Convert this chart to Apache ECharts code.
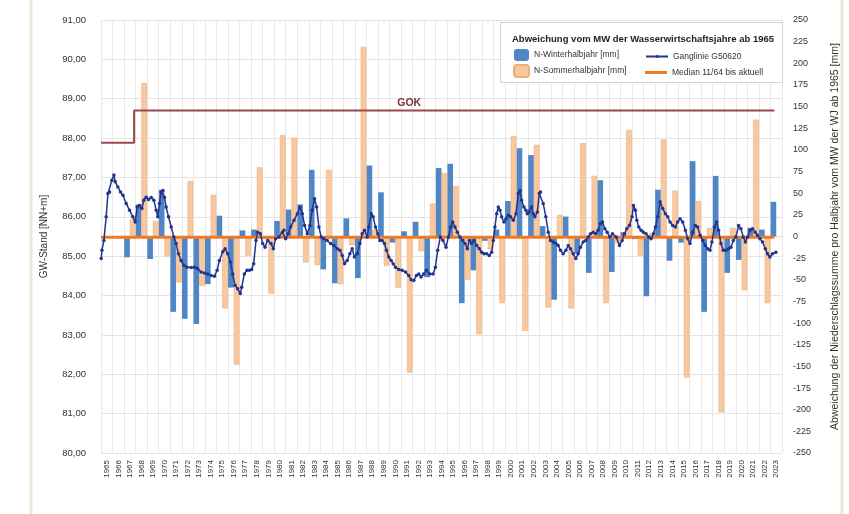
<!DOCTYPE html>
<html>
<head>
<meta charset="utf-8">
<script src="https://cdn.jsdelivr.net/npm/echarts@6/dist/echarts.min.js"></script>
<style>
html, body { margin: 0; padding: 0; background: #fff; }
#chart { width: 849px; height: 514px; }
</style>
</head>
<body>
<div id="chart"></div>
<script>
// Wasserwirtschaftsjahre
const years = ['1965','1966','1967','1968','1969','1970','1971','1972','1973','1974','1975','1976','1977','1978','1979',
  '1980','1981','1982','1983','1984','1985','1986','1987','1988','1989','1990','1991','1992','1993','1994','1995',
  '1996','1997','1998','1999','2000','2001','2002','2003','2004','2005','2006','2007','2008','2009','2010','2011',
  '2012','2013','2014','2015','2016','2017','2018','2019','2020','2021','2022','2023'];

// Abweichung vom MW [mm]
const winterDev = [null,null,-24,37,-26,54,-87,-95,-101,-55,24,-59,7,8,-3,18,31,37,77,-38,-54,21,-48,82,51,-7,6,17,-47,79,
  84,-77,-39,-5,8,41,102,94,12,-73,23,-20,-42,65,-41,5,-3,-69,54,-28,-7,87,-87,70,-42,-27,10,8,40];
const summerDev = [null,null,20,177,18,-23,-53,64,-57,48,-83,-148,-22,80,-66,117,114,-30,-33,77,-55,-10,219,8,-34,-59,-157,-17,38,73,
  58,-50,-113,-15,-77,116,-109,106,-82,25,-83,108,70,-77,-8,123,-22,4,112,53,-163,41,10,-203,10,-62,135,-77,null];

// Ganglinie G50620 (Zeit in Jahren, GW-Stand NN+m)
const gangTime = [
  1964.52,1964.58,1964.75,1964.95,1965.10,1965.24,1965.44,1965.62,1965.73,1965.96,1966.19,1966.40,1966.68,1966.97,1967.26,
  1967.46,1967.64,1967.84,1968.04,1968.21,1968.41,1968.62,1968.85,1969.08,1969.28,1969.42,1969.57,1969.71,1969.86,1970.00,
  1970.14,1970.35,1970.58,1970.81,1971.01,1971.21,1971.44,1971.67,1971.96,1972.31,1972.60,1972.88,1973.17,1973.46,1973.75,
  1974.04,1974.33,1974.56,1974.76,1975.05,1975.25,1975.48,1975.71,1975.91,1976.11,1976.34,1976.57,1976.69,1976.92,1977.15,
  1977.35,1977.55,1977.73,1977.93,1978.07,1978.30,1978.51,1978.71,1978.94,1979.23,
  1979.43,1979.63,1979.92,1980.21,1980.35,1980.50,1980.70,1980.93,1981.22,1981.51,1981.74,1981.94,1982.14,1982.37,1982.60,
  1982.80,1983.00,1983.18,1983.38,1983.58,1983.81,1984.10,1984.39,1984.68,1984.97,1985.20,1985.40,1985.60,1985.83,1986.06,
  1986.26,1986.46,1986.70,1986.93,1987.13,1987.33,1987.56,1987.70,1987.91,1988.08,1988.28,1988.48,1988.66,1988.86,1989.06,
  1989.23,1989.43,1989.64,1989.81,1990.01,1990.30,1990.59,1990.88,1991.16,1991.37,1991.60,1991.83,1992.03,1992.23,1992.46,
  1992.69,1992.98,1993.27,1993.47,1993.67,1993.90,1994.13,
  1994.39,1994.60,1994.80,1994.97,1995.17,1995.37,1995.60,1995.84,1996.04,1996.24,1996.41,1996.61,1996.82,1997.05,1997.28,
  1997.48,1997.68,1997.91,1998.14,1998.34,1998.49,1998.63,1998.78,1998.92,1999.07,1999.21,1999.41,1999.58,1999.79,1999.99,
  2000.22,2000.45,2000.65,2000.80,2000.94,2001.14,2001.31,2001.43,2001.60,2001.80,2001.95,2002.09,2002.30,2002.47,2002.58,
  2002.81,2003.04,2003.25,2003.45,2003.68,2003.91,2004.11,2004.31,2004.54,2004.78,2004.98,2005.18,2005.41,2005.64,2005.84,
  2006.04,2006.27,2006.50,2006.71,2006.91,2007.14,2007.37,2007.57,2007.77,2007.95,2008.15,2008.35,2008.58,2008.81,
  2009.13,2009.42,2009.65,2009.85,2010.05,2010.28,2010.51,2010.63,2010.80,2010.92,2011.09,2011.29,2011.49,2011.72,2011.95,
  2012.16,2012.36,2012.53,2012.73,2012.94,2013.17,2013.40,2013.60,2013.80,2014.03,2014.26,2014.46,2014.67,2014.90,2015.13,
  2015.33,2015.53,2015.76,2015.99,2016.19,2016.40,2016.63,2016.86,2017.06,2017.26,2017.43,2017.64,2017.84,2018.01,2018.21,
  2018.41,2018.64,2018.88,2019.08,2019.28,2019.51,2019.74,2019.94,2020.14,2020.32,2020.52,2020.72,2020.95,2021.18,2021.38,
  2021.59,2021.82,2022.05,2022.25,2022.45,2022.68,2022.97
];
const gangLevel = [
  84.94,85.15,85.40,86.00,86.59,86.63,86.93,87.06,86.89,86.76,86.63,86.55,86.34,86.17,86.00,
  85.87,86.25,86.29,86.21,86.42,86.50,86.44,86.49,86.42,86.17,86.00,86.34,86.63,86.67,86.50,
  86.25,86.00,85.74,85.49,85.32,85.06,84.89,84.77,84.72,84.71,84.72,84.68,84.60,84.57,84.55,
  84.51,84.49,84.64,84.89,85.11,85.19,85.06,84.85,84.55,84.26,84.17,84.05,84.21,84.55,84.64,
  84.64,84.66,84.81,85.40,85.61,85.57,85.32,85.23,85.40,85.32,
  85.19,85.44,85.49,85.61,85.66,85.44,85.57,85.74,85.91,86.08,86.25,86.08,85.78,85.57,85.78,
  86.17,86.46,86.25,85.74,85.49,85.44,85.40,85.32,85.27,85.19,85.15,85.02,84.81,84.89,85.06,
  85.19,84.98,85.06,85.32,85.57,85.66,85.49,85.74,86.08,86.00,85.74,85.57,85.40,85.40,85.32,
  85.15,84.98,84.89,84.81,84.72,84.66,84.64,84.60,84.51,84.40,84.38,84.51,84.55,84.47,84.55,
  84.64,84.55,84.55,84.72,85.15,85.49,85.40,
  85.23,85.49,85.74,85.87,85.74,85.61,85.49,85.40,85.32,85.19,85.40,85.32,85.40,85.27,85.19,
  85.10,85.06,85.06,85.02,85.10,85.40,85.74,86.08,86.25,86.17,86.00,85.87,85.95,86.04,86.00,
  85.91,86.08,86.59,86.67,86.42,86.25,86.17,86.08,86.12,86.25,86.08,86.00,86.12,86.59,86.63,
  86.34,86.00,85.61,85.40,85.36,85.32,85.27,85.15,85.06,85.15,85.27,85.19,85.06,84.94,85.06,
  85.23,85.36,85.40,85.49,85.57,85.61,85.57,85.66,85.83,85.87,85.70,85.61,85.49,85.57,
  85.49,85.27,85.40,85.57,85.70,85.78,86.00,86.29,86.17,85.91,85.74,85.66,85.61,85.57,85.49,
  85.44,85.57,85.74,86.00,86.38,86.21,86.08,86.00,85.87,85.78,85.74,85.87,85.95,85.87,85.66,
  85.44,85.32,85.61,85.78,85.74,85.53,85.40,85.27,85.19,85.15,85.36,85.74,85.87,85.66,85.32,
  85.15,85.15,85.19,85.23,85.40,85.49,85.78,85.70,85.49,85.36,85.49,85.66,85.70,85.61,85.53,
  85.44,85.36,85.19,85.06,84.98,85.06,85.10
];

// Gelaendeoberkante und Median
const gokTime = [1964.5, 1967.37, 1967.37, 2022.85];
const gokLevel = [87.88, 87.88, 88.70, 88.70];
const gokLabelAt = [1991.2, 88.9];
const medianTime = [1964.5, 2022.85];
const medianLevel = [85.48, 85.48];

const zip = (a, b) => a.map((v, i) => [v, b[i]]);
const FONT = 'Liberation Sans, Arial, sans-serif';
const legendText = { fontSize: 8.5, color: '#333' };

const chart = echarts.init(document.getElementById('chart'));
const option = {
  animation: false,
  textStyle: { fontFamily: FONT },
  grid: { left: 101, right: 66, top: 20, bottom: 61 },
  title: {
    text: 'Abweichung vom MW der Wasserwirtschaftsjahre ab 1965',
    left: 507, top: 29,
    textStyle: { fontSize: 9.5, fontWeight: 'bold', color: '#222', fontFamily: FONT },
    z: 8
  },
  graphic: [
    { type: 'rect', left: 500, top: 22, z: 3, shape: { width: 282, height: 60 },
      style: { fill: '#fff', stroke: '#d4d4d4', lineWidth: 1 } },
    { type: 'line', z: 1, shape: { x1: 31, y1: 0, x2: 31, y2: 514 }, style: { stroke: '#ece6d8', lineWidth: 3 } },
    { type: 'line', z: 1, shape: { x1: 842, y1: 0, x2: 842, y2: 514 }, style: { stroke: '#ece6d8', lineWidth: 3 } }
  ],
  legend: [
    {
      orient: 'vertical', left: 508, top: 44, itemWidth: 15, itemHeight: 12, itemGap: 3,
      data: ['N-Winterhalbjahr [mm]', 'N-Sommerhalbjahr [mm]'],
      textStyle: legendText, z: 8
    },
    {
      left: 640, top: 47, itemWidth: 22, itemHeight: 4,
      data: ['Ganglinie G50620'],
      textStyle: legendText, z: 8
    },
    {
      left: 640, top: 63, itemWidth: 22, itemHeight: 3,
      data: [{ name: 'Median 11/64 bis aktuell', icon: 'rect' }],
      textStyle: legendText, z: 8
    }
  ],
  xAxis: [
    {
      type: 'category', data: years, boundaryGap: true,
      axisLine: { show: true, lineStyle: { color: '#d9d9d9' } },
      axisTick: { show: false },
      axisLabel: { interval: 0, rotate: 90, fontSize: 8, color: '#333', margin: 7 },
      splitLine: { show: true, interval: 0, lineStyle: { color: '#e8e8e8' } }
    },
    { type: 'value', min: 1964.5, max: 2023.5, show: false }
  ],
  yAxis: [
    {
      type: 'value', min: 80, max: 91, interval: 1, position: 'left',
      name: 'GW-Stand [NN+m]', nameLocation: 'middle', nameGap: 52, nameRotate: 90,
      nameTextStyle: { fontSize: 10, color: '#333' },
      axisLine: { show: false }, axisTick: { show: false },
      axisLabel: { fontSize: 9.5, color: '#333', margin: 15, formatter: v => v.toFixed(2).replace('.', ',') },
      splitLine: { lineStyle: { color: '#e4e4e4' } }
    },
    {
      type: 'value', min: -250, max: 250, interval: 25, position: 'right',
      name: 'Abweichung der Niederschlagssumme pro Halbjahr vom MW der WJ ab 1965 [mm]',
      nameLocation: 'middle', nameGap: 48, nameRotate: 90,
      nameTextStyle: { fontSize: 10.5, color: '#333' },
      axisLine: { show: false }, axisTick: { show: false },
      axisLabel: { fontSize: 9, color: '#333', margin: 11 },
      splitLine: { show: false }
    }
  ],
  series: [
    {
      name: 'N-Winterhalbjahr [mm]', type: 'bar', xAxisIndex: 0, yAxisIndex: 1,
      data: winterDev, barGap: '0%', barCategoryGap: '2%',
      itemStyle: { color: '#4f86c6' }
    },
    {
      name: 'N-Sommerhalbjahr [mm]', type: 'bar', xAxisIndex: 0, yAxisIndex: 1,
      data: summerDev, barGap: '0%', barCategoryGap: '2%',
      itemStyle: { color: '#f8c8a0', borderColor: '#eeae78', borderWidth: 0.6 }
    },
    {
      name: 'GOK', type: 'line', xAxisIndex: 1, yAxisIndex: 0,
      data: zip(gokTime, gokLevel), symbol: 'none',
      lineStyle: { color: '#97494b', width: 2 }, z: 3,
      markPoint: {
        symbolSize: 0,
        data: [{ coord: gokLabelAt }],
        label: { show: true, formatter: 'GOK', color: '#7b2a38', fontSize: 10.5, fontWeight: 'bold' }
      }
    },
    {
      name: 'Median 11/64 bis aktuell', type: 'line', xAxisIndex: 1, yAxisIndex: 0,
      data: zip(medianTime, medianLevel), symbol: 'none',
      itemStyle: { color: '#f07a24' },
      lineStyle: { color: '#f07a24', width: 3 }, z: 4
    },
    {
      name: 'Ganglinie G50620', type: 'line', xAxisIndex: 1, yAxisIndex: 0,
      data: zip(gangTime, gangLevel), symbol: 'circle', symbolSize: 3.5, showAllSymbol: true,
      itemStyle: { color: '#22348e' },
      lineStyle: { color: '#22348e', width: 1.5 }, z: 5
    }
  ]
};
chart.setOption(option);
</script>
</body>
</html>
